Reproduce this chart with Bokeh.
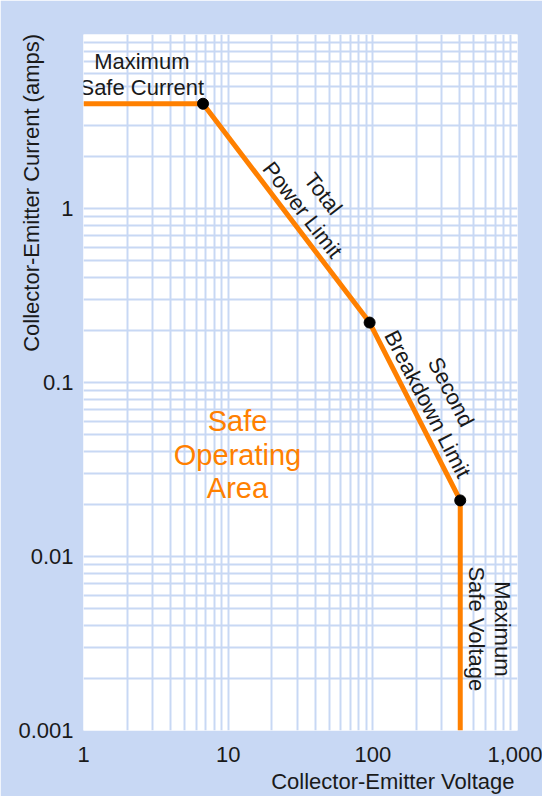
from bokeh.plotting import figure
from bokeh.models import FixedTicker, CustomJSTickFormatter, Label, Title
from bokeh.embed import file_html
from bokeh.resources import INLINE

# ---- data ----
voltage = [1, 6.7, 95, 402, 402]
current = [4.0, 4.0, 0.221, 0.021, 0.001]
corner_v = [6.7, 95, 402]
corner_i = [4.0, 0.221, 0.021]

x_ticks = [1, 10, 100, 1000]
x_tick_labels = ["1", "10", "100", "1,000"]
y_ticks = [0.001, 0.01, 0.1, 1]
y_tick_labels = ["0.001", "0.01", "0.1", "1"]

x_title = "Collector-Emitter Voltage"
y_title = "Collector-Emitter Current (amps)"

BG = "#C8D8F4"
GRID = "#C8D8F4"
ORANGE = "#FF8000"
TXT = "#1a1a1a"
FONT = "Liberation Sans"

p = figure(width=542, height=796, x_axis_type="log", y_axis_type="log",
           x_range=(1, 1000), y_range=(0.001, 10),
           output_backend="svg", toolbar_location=None,
           min_border_left=83, min_border_right=20,
           min_border_top=34, min_border_bottom=66)
p.border_fill_color = BG
p.background_fill_color = "white"
p.outline_line_color = None

x_minor = [m * 10 ** e for e in range(0, 3) for m in range(2, 10)]
y_minor = [m * 10.0 ** e for e in range(-3, 1) for m in range(2, 10)] + [10]
p.xaxis.ticker = FixedTicker(ticks=x_ticks, minor_ticks=x_minor)
p.yaxis.ticker = FixedTicker(ticks=y_ticks, minor_ticks=y_minor)

code = """
for (let i = 0; i < vals.length; i++) {
  if (Math.abs(Math.log10(tick) - Math.log10(vals[i])) < 1e-6) return labels[i];
}
return "";
"""
p.xaxis.formatter = CustomJSTickFormatter(args=dict(vals=x_ticks, labels=x_tick_labels), code=code)
p.yaxis.formatter = CustomJSTickFormatter(args=dict(vals=y_ticks, labels=y_tick_labels), code=code)

for ax in (p.xaxis, p.yaxis):
    ax.axis_line_color = None
    ax.major_tick_line_color = None
    ax.minor_tick_line_color = None
    ax.major_tick_in = 0
    ax.major_tick_out = 0
    ax.minor_tick_in = 0
    ax.minor_tick_out = 0
    ax.major_label_text_font = FONT
    ax.major_label_text_font_size = "22px"
    ax.major_label_text_color = TXT
p.xaxis.major_label_standoff = 16
p.yaxis.major_label_standoff = 10

for g in (p.xgrid, p.ygrid):
    g.grid_line_color = GRID
    g.grid_line_width = 2
    g.minor_grid_line_color = GRID
    g.minor_grid_line_width = 2
    g.level = "image"

p.line(voltage, current, line_width=5, color=ORANGE)
p.scatter(corner_v, corner_i, size=11, color="black")

def make_label(x, y, text, angle=0, size="22px", color=TXT, xo=0, yo=0, align="center"):
    return Label(x=x, y=y, text=text, angle=angle, angle_units="deg",
                 x_offset=xo, y_offset=yo,
                 text_font=FONT, text_font_size=size, text_color=color,
                 text_align=align, text_baseline="middle",
                 text_line_height=1.05)

p.add_layout(make_label(2.53, 5.9, "Maximum\nSafe Current"))
p.add_layout(make_label(38.5, 1.093, "Total\nPower Limit", angle=-52.3))
p.add_layout(make_label(288, 0.0814, "Second\nBreakdown Limit", angle=-62.7))
p.add_layout(make_label(644, 0.00384, "Maximum\nSafe Voltage", angle=-90))
p.add_layout(make_label(11.6, 0.0385, "Safe\nOperating\nArea", size="29px", color=ORANGE))

# y title: label hosted in a side panel (so it is not clipped to the frame),
# positioned from the frame's scales to the left of the tick labels
p.add_layout(make_label(1, 1.23, y_title, angle=90, xo=-52), "right")

# x title as a right-aligned title below the axis
p.add_layout(Title(text=x_title, align="right", offset=3, standoff=4,
                   text_font=FONT, text_font_size="22px",
                   text_font_style="normal", text_color=TXT), "below")

open("out.html", "w").write(file_html(p, INLINE))
